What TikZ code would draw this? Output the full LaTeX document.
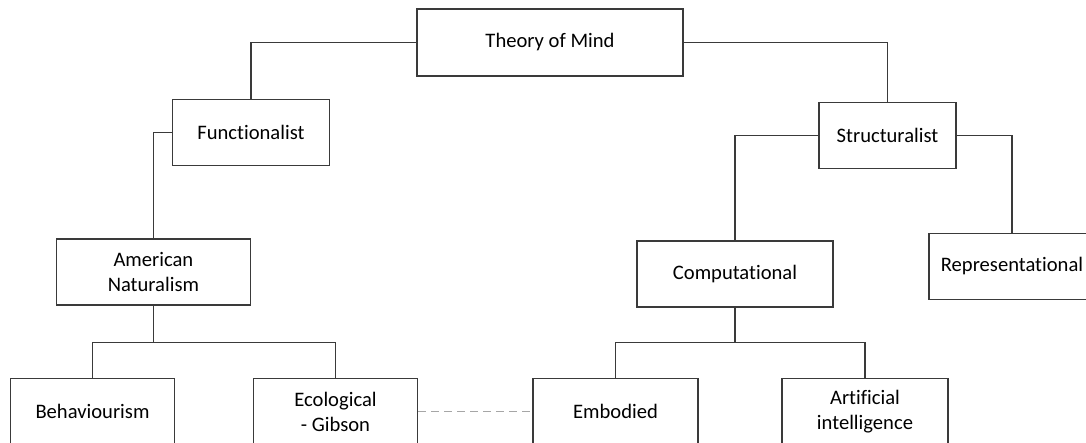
\documentclass[tikz,border=0pt]{standalone}
\usepackage{fontspec}
\setmainfont{Carlito}[Ligatures=NoCommon, Contextuals=NoAlternate]
\definecolor{boxline}{HTML}{3A3A3A}
\definecolor{dashgray}{HTML}{A6A6A6}

\begin{document}
\begin{tikzpicture}[x=1pt, y=-1pt]
\tikzset{boite/.style={draw=boxline, line width=1.25pt, rectangle, inner sep=0pt, minimum height=66pt, align=center, font=\fontsize{20.6}{25}\selectfont},
         lien/.style={draw=boxline, line width=1.25pt}}
\useasboundingbox (0,0) rectangle (1086,443);
\clip (0,0) rectangle (1086,443);
\node[boite, minimum width=266pt, minimum height=67pt] (Theory) at (550,42.5) {Theory of Mind};
\node[boite, minimum width=157pt] (Func) at (251,132.5) {Functionalist};
\node[boite, minimum width=137pt] (Struct) at (887.5,135.4) {Structuralist};
\node[boite, minimum width=194pt] (AmNat) at (153.4,272) {American\\Naturalism};
\node[boite, minimum width=196pt] (Comp) at (735,274) {Computational};
\node[boite, minimum width=166pt] (Repr) at (1012,266.3) {Representational};
\node[boite, minimum width=164pt] (Behav) at (92.5,411.5) {Behaviourism};
\node[boite, minimum width=164pt] (Ecol) at (335.5,411.5) {Ecological\\- Gibson};
\node[boite, minimum width=165pt] (Embod) at (615.5,411.5) {Embodied};
\node[boite, minimum width=166pt] (AI) at (865,411.5) {Artificial\\intelligence};
\coordinate (NatSplit) at (153.4,342.3);
\coordinate (CompSplit) at (735,342.3);
\draw[lien] (Theory.west) -| (Func.north);
\draw[lien] (Theory.east) -| (Struct.north);
\draw[lien] (Func.west) -| (AmNat.north);
\draw[lien] (Struct.west) -| (Comp.north);
\draw[lien] (Struct.east) -| (Repr.north);
\draw[lien] (AmNat.south) -- (NatSplit);
\draw[lien] (Behav.north) |- (NatSplit) -| (Ecol.north);
\draw[lien] (Comp.south) -- (CompSplit);
\draw[lien] (Embod.north) |- (CompSplit) -| (AI.north);
\draw[draw=dashgray, line width=1.25pt, dash pattern=on 8pt off 5pt] (Ecol.east) -- (Embod.west);
\end{tikzpicture}
\end{document}
